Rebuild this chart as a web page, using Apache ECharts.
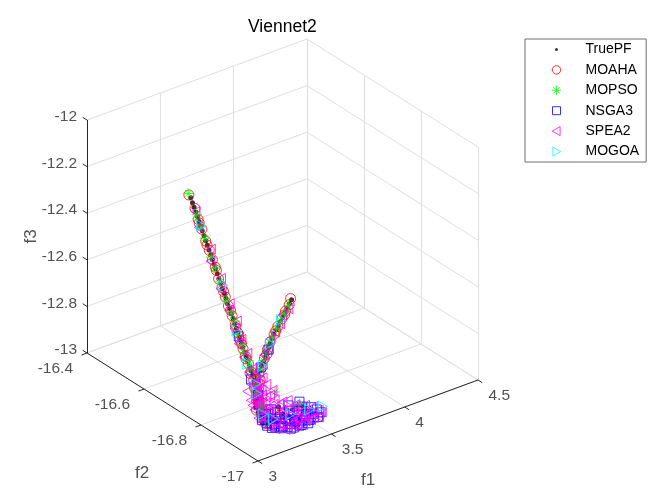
<!DOCTYPE html>
<html lang="en">
<head>
<meta charset="UTF-8">
<title>Viennet2</title>
<style>
    * { margin: 0; padding: 0; }
    html, body { background: #fff; }
    #main { width: 666px; height: 502px; }
</style>
</head>
<body>
<div id="main"></div>
<script src="https://cdn.jsdelivr.net/npm/echarts@6/dist/echarts.min.js"></script>
<script>
var FONT = '"Liberation Sans", Arial, Helvetica, sans-serif';

// axis limits and ticks
var f1Range = [3, 4.5];
var f2Range = [-17, -16.4];
var f3Range = [-13, -12];
var f1Ticks = [3, 3.5, 4, 4.5];
var f2Ticks = [-17, -16.8, -16.6, -16.4];
var f3Ticks = [-13, -12.8, -12.6, -12.4, -12.2, -12];
var f1TickLabels = ['3', '3.5', '4', '4.5'];
var f2TickLabels = ['-17', '-16.8', '-16.6', '-16.4'];
var f3TickLabels = ['-13', '-12.8', '-12.6', '-12.4', '-12.2', '-12'];

var seriesNames = ['TruePF', 'MOAHA', 'MOPSO', 'NSGA3', 'SPEA2', 'MOGOA'];

// [f1, f2, f3]
var truePF = [
    [3.000,-16.764,-12.053],[3.000,-16.770,-12.069],[3.001,-16.775,-12.085],[3.001,-16.781,-12.101],
    [3.002,-16.787,-12.117],[3.002,-16.792,-12.133],[3.002,-16.798,-12.149],[3.003,-16.803,-12.165],
    [3.003,-16.809,-12.182],[3.003,-16.815,-12.198],[3.004,-16.820,-12.214],[3.004,-16.826,-12.230],
    [3.005,-16.832,-12.246],[3.005,-16.837,-12.262],[3.005,-16.843,-12.278],[3.006,-16.848,-12.294],
    [3.006,-16.854,-12.310],[3.007,-16.859,-12.328],[3.009,-16.865,-12.345],[3.010,-16.870,-12.363],
    [3.012,-16.876,-12.380],[3.013,-16.881,-12.398],[3.014,-16.886,-12.416],[3.016,-16.892,-12.433],
    [3.017,-16.897,-12.451],[3.019,-16.903,-12.468],[3.020,-16.908,-12.486],[3.023,-16.912,-12.504],
    [3.026,-16.916,-12.522],[3.029,-16.920,-12.539],[3.032,-16.924,-12.557],[3.035,-16.928,-12.575],
    [3.039,-16.933,-12.593],[3.042,-16.937,-12.610],[3.045,-16.941,-12.628],[3.048,-16.945,-12.646],
    [3.051,-16.949,-12.664],[3.054,-16.953,-12.681],[3.057,-16.957,-12.699],[3.068,-16.956,-12.723],
    [3.080,-16.955,-12.747],[3.091,-16.954,-12.772],[3.103,-16.953,-12.796],[3.114,-16.952,-12.820],
    [3.126,-16.951,-12.844],[3.137,-16.950,-12.869],[3.149,-16.949,-12.893],[3.160,-16.948,-12.917],
    [3.216,-16.909,-12.956],[3.250,-16.882,-12.963],[3.283,-16.855,-12.971],[3.317,-16.828,-12.978],
    [3.354,-16.810,-12.980],[3.391,-16.793,-12.982],[3.428,-16.775,-12.984],[3.464,-16.758,-12.987],
    [3.501,-16.740,-12.989],[3.538,-16.723,-12.991],[3.575,-16.705,-12.993],[3.615,-16.691,-12.994],
    [3.654,-16.676,-12.994],[3.694,-16.662,-12.995],[3.733,-16.648,-12.996],[3.773,-16.633,-12.996],
    [3.812,-16.619,-12.997],[3.852,-16.604,-12.998],[3.891,-16.590,-12.998],[3.930,-16.577,-12.998],
    [3.970,-16.565,-12.998],[4.009,-16.552,-12.999],[4.048,-16.540,-12.999],[4.088,-16.527,-12.999],
    [4.127,-16.515,-12.999],[4.166,-16.502,-13.000],[4.206,-16.490,-13.000],[4.245,-16.477,-13.000],
    [3.257,-16.955,-12.894],[3.237,-16.932,-12.925],[3.278,-16.978,-12.863],[3.298,-17.000,-12.832],
    [3.307,-16.914,-12.905],[3.200,-16.900,-12.900],[3.120,-16.930,-12.820]
];

var moaha = [
    [2.999,-16.758,-12.045],[3.002,-16.778,-12.088],[3.000,-16.790,-12.125],[3.004,-16.801,-12.160],
    [3.003,-16.815,-12.200],[3.006,-16.826,-12.232],[3.004,-16.838,-12.262],[3.008,-16.850,-12.300],
    [3.007,-16.858,-12.330],[3.011,-16.868,-12.360],[3.012,-16.879,-12.392],[3.016,-16.888,-12.425],
    [3.018,-16.900,-12.458],[3.022,-16.909,-12.490],[3.025,-16.916,-12.520],[3.030,-16.922,-12.548],
    [3.034,-16.930,-12.580],[3.040,-16.935,-12.608],[3.046,-16.943,-12.637],[3.052,-16.950,-12.668],
    [3.058,-16.955,-12.700],[3.072,-16.953,-12.735],[3.088,-16.952,-12.768],[3.104,-16.950,-12.800],
    [3.122,-16.949,-12.838],[3.140,-16.946,-12.873],[3.180,-16.935,-12.930],[3.240,-16.900,-12.960],
    [3.300,-16.840,-12.975],[3.260,-16.950,-12.900],[3.380,-16.800,-12.982],[3.450,-16.765,-12.986],
    [3.520,-16.732,-12.990],[3.590,-16.700,-12.993],[3.650,-16.680,-12.994],[3.720,-16.652,-12.995],
    [3.790,-16.626,-12.996],[3.860,-16.600,-12.997],[3.930,-16.578,-12.998],[4.000,-16.555,-12.998],
    [4.070,-16.533,-12.999],[4.140,-16.510,-12.999],[4.200,-16.492,-13.000],[4.248,-16.472,-13.000],
    [3.003,-16.792,-12.140],[3.006,-16.818,-12.215],[3.010,-16.845,-12.290],[3.014,-16.872,-12.375],
    [3.021,-16.893,-12.440],[3.028,-16.908,-12.505],[3.036,-16.924,-12.565],[3.044,-16.935,-12.622],
    [3.055,-16.944,-12.680],[3.078,-16.947,-12.745],[3.098,-16.945,-12.790],[3.130,-16.955,-12.862],
    [3.160,-16.958,-12.908],[3.210,-16.948,-12.935],[3.330,-16.965,-12.920],[3.550,-16.725,-12.992],
    [3.760,-16.640,-12.996],[3.960,-16.568,-12.998],[4.110,-16.522,-12.999],
    [3.115,-16.945,-12.815],[3.168,-16.950,-12.860],[3.255,-16.945,-12.905]
];

var mopso = [
    [2.998,-16.756,-12.040],[3.002,-16.784,-12.110],[3.001,-16.800,-12.150],[3.004,-16.812,-12.190],
    [3.005,-16.833,-12.255],[3.008,-16.846,-12.292],[3.009,-16.862,-12.340],[3.013,-16.884,-12.405],
    [3.017,-16.897,-12.450],[3.021,-16.906,-12.478],[3.027,-16.913,-12.530],[3.033,-16.927,-12.566],
    [3.038,-16.930,-12.598],[3.044,-16.944,-12.622],[3.050,-16.947,-12.656],[3.062,-16.958,-12.710],
    [3.085,-16.957,-12.755],[3.110,-16.953,-12.812],[3.130,-16.948,-12.855],[3.200,-16.920,-12.940],
    [3.270,-16.870,-12.968],[3.290,-16.985,-12.850],[3.345,-16.990,-12.870],[3.400,-16.975,-12.905],
    [3.420,-16.778,-12.983],[3.490,-16.745,-12.988],[3.560,-16.712,-12.992],[3.630,-16.686,-12.994],
    [3.700,-16.660,-12.995],[3.760,-16.636,-12.996],[3.830,-16.612,-12.997],[3.900,-16.588,-12.998],
    [3.980,-16.560,-12.998],[4.050,-16.540,-12.999],[4.120,-16.516,-12.999],[4.190,-16.494,-13.000],
    [3.150,-16.962,-12.860],[3.180,-16.944,-12.905],[3.233,-16.940,-12.804],[3.403,-16.940,-12.899],
    [3.130,-16.940,-12.836]
];

var nsga3 = [
    [3.121,-16.952,-12.889],[3.161,-16.948,-12.916],[3.202,-16.955,-12.934],[3.243,-16.950,-12.948],
    [3.284,-16.958,-12.953],[3.325,-16.946,-12.958],[3.366,-16.954,-12.959],[3.407,-16.949,-12.960],
    [3.448,-16.956,-12.956],[3.475,-16.951,-12.945],[3.175,-16.957,-12.893],[3.230,-16.947,-12.914],
    [3.277,-16.953,-12.921],[3.325,-16.960,-12.928],[3.373,-16.945,-12.930],[3.421,-16.952,-12.933],
    [3.216,-16.949,-12.881],[3.264,-16.956,-12.888],[3.311,-16.950,-12.895],[3.359,-16.958,-12.901],
    [3.407,-16.944,-12.904],[3.455,-16.953,-12.911],[3.141,-16.955,-12.868],[3.189,-16.948,-12.862],
    [3.298,-16.954,-12.866],[3.380,-16.950,-12.872],[3.339,-16.957,-12.944],[3.257,-16.951,-12.934],
    [3.434,-16.947,-12.927],[3.489,-16.955,-12.927],[3.117,-16.940,-12.790],[3.050,-16.950,-12.700],
    [3.640,-16.680,-12.994],[3.800,-16.625,-12.997],[3.028,-16.918,-12.535],
    [3.189,-16.952,-12.939],[3.257,-16.948,-12.959],[3.311,-16.955,-12.968],[3.380,-16.950,-12.975],
    [3.434,-16.953,-12.975],[3.482,-16.949,-12.964],[3.148,-16.956,-12.917],[3.121,-16.951,-12.880],
    [3.516,-16.954,-12.946],[3.350,-16.947,-12.950],
    [3.148,-16.950,-12.895],[3.209,-16.953,-12.927],[3.271,-16.948,-12.954],[3.332,-16.955,-12.968],
    [3.393,-16.951,-12.974],[3.455,-16.946,-12.971],[3.502,-16.952,-12.965],[3.291,-16.957,-12.929],
    [3.352,-16.949,-12.951],[3.407,-16.954,-12.943],[3.175,-16.946,-12.880],[3.243,-16.953,-12.905]
];

var spea2 = [
    [3.002,-16.780,-12.100],[3.003,-16.790,-12.160],[3.006,-16.832,-12.222],[3.006,-16.830,-12.275],
    [3.009,-16.866,-12.322],[3.012,-16.862,-12.370],[3.014,-16.894,-12.410],[3.019,-16.888,-12.445],
    [3.022,-16.915,-12.470],[3.024,-16.905,-12.510],[3.028,-16.928,-12.540],[3.033,-16.915,-12.570],
    [3.037,-16.944,-12.590],[3.043,-16.928,-12.620],[3.047,-16.956,-12.650],[3.053,-16.941,-12.675],
    [3.060,-16.962,-12.705],[3.070,-16.948,-12.728],[3.082,-16.961,-12.752],[3.095,-16.947,-12.780],
    [3.108,-16.958,-12.806],[3.118,-16.944,-12.830],[3.132,-16.955,-12.858],[3.145,-16.942,-12.885],
    [3.096,-16.940,-12.772],[3.076,-16.936,-12.738],[3.117,-16.944,-12.820],[3.151,-16.938,-12.862],
    [3.130,-16.943,-12.883],[3.185,-16.937,-12.913],[3.233,-16.942,-12.937],[3.287,-16.939,-12.958],
    [3.342,-16.945,-12.962],[3.389,-16.936,-12.961],[3.437,-16.941,-12.959],[3.471,-16.938,-12.950],
    [3.403,-16.944,-12.925],[3.348,-16.940,-12.921],[3.294,-16.935,-12.917],[3.239,-16.943,-12.909],
    [3.198,-16.939,-12.873],[3.164,-16.942,-12.835],[3.267,-16.937,-12.868],[3.321,-16.944,-12.893],
    [3.376,-16.938,-12.893],[3.144,-16.941,-12.796],[3.526,-16.943,-12.949],[3.444,-16.937,-12.913],
    [3.062,-16.942,-12.799],[3.096,-16.938,-12.850],[3.117,-16.941,-12.889],[3.144,-16.937,-12.921],
    [3.185,-16.943,-12.943],[3.239,-16.939,-12.964],[3.301,-16.942,-12.979],[3.369,-16.938,-12.986],
    [3.423,-16.941,-12.986],[3.485,-16.937,-12.983],[3.526,-16.944,-12.975],[3.553,-16.940,-12.964],
    [3.130,-16.938,-12.849],[3.185,-16.942,-12.883],[3.233,-16.939,-12.838],[3.314,-16.943,-12.857],
    [3.417,-16.940,-12.950],[3.498,-16.938,-12.930],[3.103,-16.942,-12.744],[3.144,-16.939,-12.775],
    [3.198,-16.941,-12.809],[3.048,-16.937,-12.761],
    [3.076,-16.941,-12.824],[3.110,-16.938,-12.801],[3.158,-16.943,-12.898],[3.205,-16.939,-12.927],
    [3.260,-16.942,-12.952],[3.321,-16.938,-12.971],[3.383,-16.941,-12.976],[3.444,-16.939,-12.978],
    [3.492,-16.942,-12.971],[3.539,-16.938,-12.970],[3.171,-16.941,-12.811],[3.226,-16.938,-12.858],
    [3.273,-16.942,-12.891],[3.328,-16.939,-12.929],[3.383,-16.943,-12.950],[3.437,-16.938,-12.933],
    [3.362,-16.941,-12.903],[3.287,-16.939,-12.860],[3.123,-16.942,-12.762],[3.178,-16.938,-12.761],
    [3.089,-16.941,-12.711],[3.151,-16.939,-12.725],[3.212,-16.942,-12.791],[3.458,-16.938,-12.959],
    [3.360,-16.805,-12.979],[3.410,-16.790,-12.983],[3.470,-16.755,-12.987],[3.540,-16.728,-12.991],
    [3.600,-16.695,-12.993],[3.670,-16.672,-12.994],[3.740,-16.640,-12.995],[3.810,-16.622,-12.997],
    [3.880,-16.590,-12.997],[3.950,-16.572,-12.998],[4.030,-16.548,-12.999],[4.100,-16.520,-12.999],
    [4.170,-16.505,-13.000]
];

var mogoa = [
    [3.003,-16.800,-12.145],[3.012,-16.870,-12.350],[3.026,-16.912,-12.515],[3.045,-16.940,-12.640],
    [3.090,-16.950,-12.770],[3.150,-16.940,-12.880],[3.500,-16.735,-12.990],[3.660,-16.678,-12.994],
    [3.850,-16.606,-12.998],[4.060,-16.536,-12.999],[3.500,-16.970,-12.905],[3.300,-16.960,-12.900],
    [3.240,-16.930,-12.930],[3.380,-16.985,-12.880]
];

// page position of the box corner (f1 min, f2 min, f3 min) and of the three box edges
// (MATLAB default 3-D view, az -37.5, el 30)
var ORIGIN = [258, 461];
var EDGE1 = [220, -81];
var EDGE2 = [-171, -108];
var EDGE3 = [0, -233];
var TICK_LEN = 0.025;

function project(p) {
    var u = (p[0] - f1Range[0]) / (f1Range[1] - f1Range[0]);
    var v = (p[1] - f2Range[0]) / (f2Range[1] - f2Range[0]);
    var w = (p[2] - f3Range[0]) / (f3Range[1] - f3Range[0]);
    return [
        ORIGIN[0] + u * EDGE1[0] + v * EDGE2[0] + w * EDGE3[0],
        ORIGIN[1] + u * EDGE1[1] + v * EDGE2[1] + w * EDGE3[1]
    ];
}
function seg(a, b) {
    return { coords: [project(a), project(b)] };
}

var x0 = f1Range[0], x1 = f1Range[1];
var y0 = f2Range[0], y1 = f2Range[1];
var z0 = f3Range[0], z1 = f3Range[1];

// grid on the floor and the two back walls
var gridSegs = [];
f1Ticks.forEach(function (x) {
    gridSegs.push(seg([x, y0, z0], [x, y1, z0]));
    gridSegs.push(seg([x, y1, z0], [x, y1, z1]));
});
f2Ticks.forEach(function (y) {
    gridSegs.push(seg([x0, y, z0], [x1, y, z0]));
    gridSegs.push(seg([x1, y, z0], [x1, y, z1]));
});
f3Ticks.forEach(function (z) {
    gridSegs.push(seg([x0, y1, z], [x1, y1, z]));
    gridSegs.push(seg([x1, y0, z], [x1, y1, z]));
});

// axis lines and tick marks
var axisSegs = [
    seg([x0, y0, z0], [x1, y0, z0]),
    seg([x0, y0, z0], [x0, y1, z0]),
    seg([x0, y1, z0], [x0, y1, z1])
];
f1Ticks.forEach(function (x) {
    axisSegs.push(seg([x, y0, z0], [x, y0 - TICK_LEN * (y1 - y0), z0]));
});
f2Ticks.forEach(function (y) {
    axisSegs.push(seg([x0, y, z0], [x0 - TICK_LEN * (x1 - x0), y, z0]));
});
f3Ticks.forEach(function (z) {
    axisSegs.push(seg([x0, y1, z], [x0, y1 + TICK_LEN * (y1 - y0), z]));
});

function labelSeries(points, names, label) {
    return {
        type: 'scatter',
        silent: true,
        symbolSize: 1,
        itemStyle: { color: 'none' },
        data: points.map(function (p, i) { return { value: project(p), name: names[i] }; }),
        label: Object.assign({
            show: true,
            position: 'inside',
            formatter: '{b}',
            verticalAlign: 'middle',
            fontFamily: FONT,
            fontSize: 15.5,
            color: '#262626'
        }, label)
    };
}

function markerSeries(name, data, symbol, size, color) {
    return {
        name: name,
        type: 'scatter',
        silent: true,
        symbol: symbol,
        symbolSize: size,
        symbolKeepAspect: true,
        itemStyle: { color: 'none', borderColor: color, borderWidth: 1 },
        data: data.map(project)
    };
}

// plot markers (MATLAB '*', 's', '<', '>')
var STAR = 'path://M5,0L5,10M0,5L10,5M1.5,1.5L8.5,8.5M1.5,8.5L8.5,1.5';
var SQUARE = 'path://M0,0L10,0L10,10L0,10Z';
var TRI_LEFT = 'path://M0,5L8.66,0L8.66,10Z';
var TRI_RIGHT = 'path://M8.66,5L0,0L0,10Z';

// legend icons drawn in a 48x9 cell (the leading moves pin the cell size)
var CELL = 'path://M0,0M48,9';
var legendIcons = [
    CELL + 'M24,3A1.5,1.5,0,1,1,24,6A1.5,1.5,0,1,1,24,3Z',
    CELL + 'M28.2,4.5A4.2,4.2,0,1,1,19.8,4.5A4.2,4.2,0,1,1,28.2,4.5Z',
    CELL + 'M24,0L24,9M19.5,4.5L28.5,4.5M20.8,1.3L27.2,7.7M20.8,7.7L27.2,1.3',
    CELL + 'M20,0.5L28,0.5L28,8.5L20,8.5Z',
    CELL + 'M19.8,4.5L27.6,0L27.6,9Z',
    CELL + 'M28.2,4.5L20.4,0L20.4,9Z'
];

var chart = echarts.init(document.getElementById('main'));
var option = {
    backgroundColor: '#fff',
    animation: false,
    title: {
        text: 'Viennet2',
        left: 248,
        top: 18,
        padding: 0,
        textStyle: { fontFamily: FONT, fontSize: 17.5, fontWeight: 'normal', color: '#000' }
    },
    legend: {
        data: seriesNames.map(function (n, i) {
            var item = { name: n, icon: legendIcons[i] };
            if (i === 0) item.itemStyle = { color: '#000', borderWidth: 0 };
            return item;
        }),
        orient: 'vertical',
        left: 525,
        top: 39,
        padding: [0.5, 7, 0.5, 5],
        itemGap: 0.4,
        itemWidth: 48,
        itemHeight: 9,
        selectedMode: false,
        backgroundColor: '#fff',
        borderColor: '#6e6e6e',
        borderWidth: 1,
        borderRadius: 0,
        itemStyle: { borderWidth: 1 },
        textStyle: { fontFamily: FONT, fontSize: 14, lineHeight: 20, color: '#000', padding: 0 }
    },
    grid: { left: 0, top: 0, width: 666, height: 502 },
    xAxis: { type: 'value', min: 0, max: 666, show: false },
    yAxis: { type: 'value', min: 0, max: 502, inverse: true, show: false },
    series: [
        {
            type: 'lines',
            coordinateSystem: 'cartesian2d',
            silent: true,
            lineStyle: { color: '#dfdfdf', width: 1, opacity: 1 },
            data: gridSegs
        },
        {
            type: 'lines',
            coordinateSystem: 'cartesian2d',
            silent: true,
            lineStyle: { color: '#262626', width: 1, opacity: 1 },
            data: axisSegs
        },
        {
            name: seriesNames[0],
            type: 'scatter',
            silent: true,
            symbol: 'circle',
            symbolSize: 5,
            itemStyle: { color: '#000', borderWidth: 0 },
            data: truePF.map(project)
        },
        markerSeries(seriesNames[1], moaha, 'circle', 10, '#ff0000'),
        markerSeries(seriesNames[2], mopso, STAR, 10, '#00ff00'),
        markerSeries(seriesNames[3], nsga3, SQUARE, 9, '#0000ff'),
        markerSeries(seriesNames[4], spea2, TRI_LEFT, 10, '#ff00ff'),
        markerSeries(seriesNames[5], mogoa, TRI_RIGHT, 11, '#00ffff'),
        labelSeries(f1Ticks.map(function (x) { return [x, y0, z0]; }), f1TickLabels,
            { align: 'left', offset: [10.5, 16] }),
        labelSeries(f2Ticks.map(function (y) { return [x0, y, z0]; }), f2TickLabels,
            { align: 'right', offset: [-14, 16] }),
        labelSeries(f3Ticks.map(function (z) { return [x0, y1, z]; }), f3TickLabels,
            { align: 'right', offset: [-10, -3] }),
        labelSeries([[(x0 + x1) / 2, y0, z0]], ['f1'], { align: 'center', fontSize: 17, offset: [0, 59.5] }),
        labelSeries([[x0, (y0 + y1) / 2, z0]], ['f2'], { align: 'center', fontSize: 17, offset: [-30.5, 66] }),
        labelSeries([[x0, y1, (z0 + z1) / 2]], ['f3'], { align: 'center', fontSize: 17, offset: [0, -56], rotate: 90 })
    ]
};
chart.setOption(option);
</script>
</body>
</html>
